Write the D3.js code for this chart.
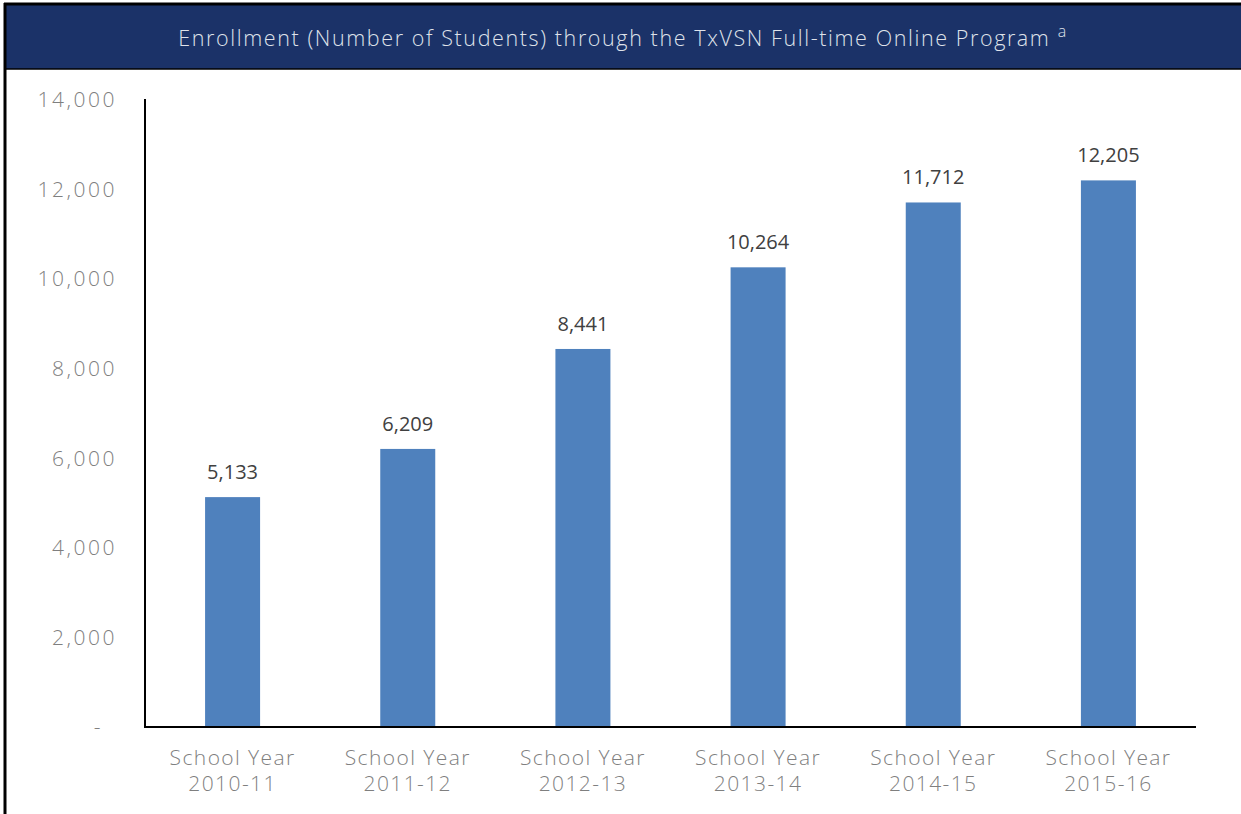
<!DOCTYPE html>
<html>
<head>
<meta charset="utf-8">
<script src="https://cdn.jsdelivr.net/npm/d3@7"></script>
<style>
  body { margin: 0; background: #fff; }
  svg text { font-family: "Open Sans", "Segoe UI", sans-serif; }
</style>
</head>
<body>
<svg id="chart" width="1241" height="814"></svg>
<script>
// Chart data
const years    = [ '2010-11', '2011-12', '2012-13', '2013-14', '2014-15', '2015-16' ];
const students = [ 5133, 6209, 8441, 10264, 11712, 12205 ];
const yTicks   = [ 0, 2000, 4000, 6000, 8000, 10000, 12000, 14000 ];

const W = 1241, H = 814;
const margin = { top: 100, left: 145, right: 45, bottom: 87 };

const svg = d3.select( '#chart' );

// Frame and title bar
svg.append( 'rect' ).attr( 'x', 4 ).attr( 'y', 4 ).attr( 'width', W - 4 ).attr( 'height', 65 )
  .attr( 'fill', '#1b3268' );
svg.append( 'line' ).attr( 'x1', 4 ).attr( 'x2', W ).attr( 'y1', 4 ).attr( 'y2', 4 )
  .attr( 'stroke', '#000' ).attr( 'stroke-width', 3 );
svg.append( 'line' ).attr( 'x1', 6 ).attr( 'x2', W ).attr( 'y1', 69 ).attr( 'y2', 69 )
  .attr( 'stroke', '#000' ).attr( 'stroke-width', 1.5 );
svg.append( 'line' ).attr( 'x1', 5 ).attr( 'x2', 5 ).attr( 'y1', 3 ).attr( 'y2', H )
  .attr( 'stroke', '#000' ).attr( 'stroke-width', 3 );

const title = svg.append( 'text' )
  .attr( 'x', 623 ).attr( 'y', 46 )
  .attr( 'text-anchor', 'middle' )
  .attr( 'fill', '#dfe2ea' )
  .style( 'font-size', '21.5px' ).style( 'font-weight', 300 )
  .style( 'letter-spacing', '1.6px' );
title.append( 'tspan' ).text( 'Enrollment (Number of Students) through the TxVSN Full-time Online Program ' );
title.append( 'tspan' ).attr( 'dy', -9 ).style( 'font-size', '16px' ).text( 'a' );

// Scales
const x = d3.scaleBand()
  .domain( years )
  .range( [ margin.left, W - margin.right ] )
  .paddingInner( 0.686 )
  .paddingOuter( 0.343 );
const y = d3.scaleLinear()
  .domain( [ 0, 14000 ] )
  .range( [ H - margin.bottom, margin.top ] );

// Bars
svg.selectAll( 'rect.bar' ).data( students ).enter().append( 'rect' )
  .attr( 'class', 'bar' )
  .attr( 'x', ( d, i ) => x( years[ i ] ) )
  .attr( 'y', d => y( d ) )
  .attr( 'width', x.bandwidth() )
  .attr( 'height', d => y( 0 ) - y( d ) )
  .attr( 'fill', '#4f81bd' );

// Value labels
svg.selectAll( 'text.val' ).data( students ).enter().append( 'text' )
  .attr( 'class', 'val' )
  .attr( 'x', ( d, i ) => x( years[ i ] ) + x.bandwidth() / 2 )
  .attr( 'y', d => y( d ) - 18 )
  .attr( 'text-anchor', 'middle' )
  .attr( 'fill', '#404040' )
  .style( 'font-size', '20px' )
  .text( d => d3.format( ',' )( d ) );

// Y axis
const yAxis = d3.axisLeft( y )
  .tickValues( yTicks )
  .tickSize( 0 )
  .tickPadding( 28 )
  .tickFormat( d => d === 0 ? '-' : d3.format( ',' )( d ) );
const yG = svg.append( 'g' ).attr( 'transform', `translate(${margin.left},0)` ).call( yAxis );
yG.select( '.domain' ).attr( 'stroke', '#000' ).attr( 'stroke-width', 2 )
  .attr( 'd', `M0,${y( 0 )}V${y( 14000 ) - 1}` );
yG.selectAll( 'text' ).attr( 'fill', '#7f7f7f' ).style( 'font-size', '21px' ).style( 'font-weight', 300 )
  .style( 'letter-spacing', '2.5px' ).attr( 'font-family', null );
yG.selectAll( '.tick text' ).filter( d => d === 0 ).attr( 'dx', -14 );

// X axis: two-line category labels
const xAxis = d3.axisBottom( x ).tickSize( 0 ).tickFormat( '' );
const xG = svg.append( 'g' ).attr( 'transform', `translate(0,${y( 0 )})` ).call( xAxis );
xG.select( '.domain' ).attr( 'stroke', '#000' ).attr( 'stroke-width', 2 )
  .attr( 'd', `M${margin.left - 1},0H${W - margin.right}` );
xG.selectAll( '.tick' ).selectAll( 'text.lbl' ).data( d => [ 'School Year', d ] ).enter().append( 'text' )
  .attr( 'class', 'lbl' )
  .attr( 'x', 0 )
  .attr( 'y', ( d, i ) => 38 + i * 26 )
  .attr( 'text-anchor', 'middle' )
  .attr( 'fill', '#7f7f7f' )
  .style( 'font-size', '21px' ).style( 'font-weight', 300 )
  .style( 'letter-spacing', '1.4px' )
  .text( d => d );
</script>
</body>
</html>
